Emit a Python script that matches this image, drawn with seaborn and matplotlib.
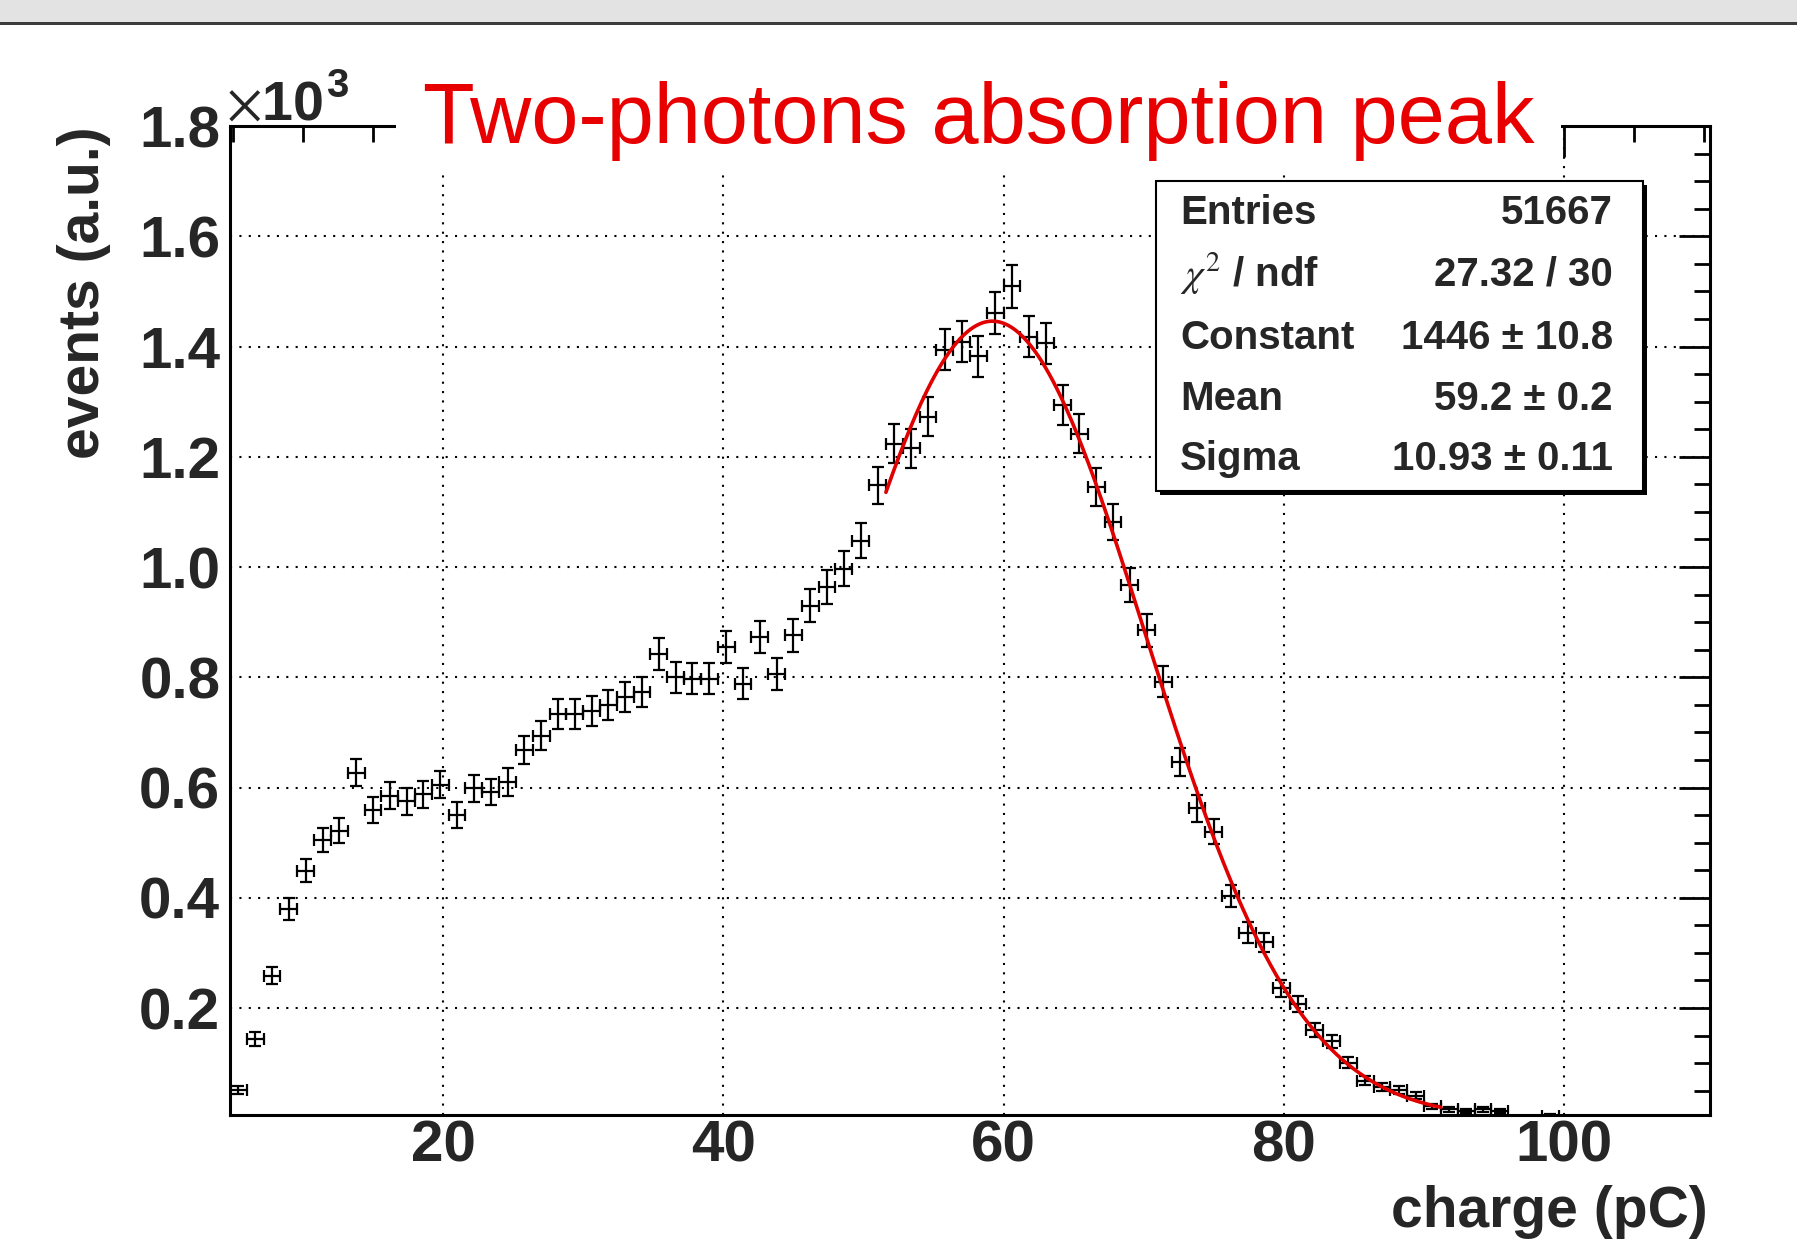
import matplotlib
matplotlib.use("Agg")
import matplotlib.pyplot as plt
from matplotlib.patches import Rectangle
from matplotlib.ticker import MultipleLocator
import numpy as np
import pandas as pd
import seaborn as sns

# bin centres (pC), bin width 1.2 pC
charge = [5.4, 6.6, 7.8, 9.0, 10.2, 11.4, 12.6, 13.8, 15.0, 16.2,
          17.4, 18.6, 19.8, 21.0, 22.2, 23.4, 24.6, 25.8, 27.0, 28.2,
          29.4, 30.6, 31.8, 33.0, 34.2, 35.4, 36.6, 37.8, 39.0, 40.2,
          41.4, 42.6, 43.8, 45.0, 46.2, 47.4, 48.6, 49.8, 51.0, 52.2,
          53.4, 54.6, 55.8, 57.0, 58.2, 59.4, 60.6, 61.8, 63.0, 64.2,
          65.4, 66.6, 67.8, 69.0, 70.2, 71.4, 72.6, 73.8, 75.0, 76.2,
          77.4, 78.6, 79.8, 81.0, 82.2, 83.4, 84.6, 85.8, 87.0, 88.2,
          89.4, 90.6, 91.8, 93.0, 94.2, 95.4, 99.0]
# bin contents in units of 10^3 events
events = [0.051, 0.144, 0.259, 0.380, 0.449, 0.505, 0.522, 0.627, 0.559, 0.585,
          0.575, 0.588, 0.605, 0.550, 0.599, 0.592, 0.610, 0.668, 0.694, 0.733,
          0.733, 0.738, 0.750, 0.764, 0.773, 0.842, 0.800, 0.797, 0.797, 0.855,
          0.788, 0.873, 0.806, 0.876, 0.930, 0.964, 0.997, 1.048, 1.148, 1.224,
          1.215, 1.273, 1.394, 1.409, 1.382, 1.461, 1.509, 1.418, 1.406, 1.294,
          1.242, 1.145, 1.082, 0.967, 0.885, 0.792, 0.646, 0.562, 0.520, 0.403,
          0.337, 0.319, 0.236, 0.208, 0.160, 0.140, 0.101, 0.068, 0.057, 0.051,
          0.041, 0.022, 0.016, 0.013, 0.016, 0.013, 0.005]
bin_width = 1.2

# gaussian fit parameters (from the stats box) and fit range
fit_const, fit_mean, fit_sigma = 1446, 59.2, 10.93
fit_range = [51.6, 91.2]

stats_names = ["Entries", r"$\chi^{2}$ / ndf", "Constant", "Mean", "Sigma"]
stats_values = ["51667", "27.32 / 30", "1446 \u00b1 10.8", "59.2 \u00b1 0.2", "10.93 \u00b1 0.11"]

xticks = [20, 40, 60, 80, 100]
yticks = [0.2, 0.4, 0.6, 0.8, 1.0, 1.2, 1.4, 1.6, 1.8]

W, H = 1797, 1243  # output size in px, used to place things in figure coords
def fx(px):
    return px / W
def fy(py):
    return 1 - py / H

sns.set_style("white")
plt.rcParams['font.family'] = ['Liberation Sans', 'DejaVu Sans']
plt.rcParams['mathtext.fontset'] = 'stix'

fig = plt.figure(figsize=(W / 100, H / 100), dpi=100)
ax = fig.add_axes([fx(230), fy(1115), fx(1710) - fx(230), fy(126) - fy(1115)])

yerr = np.sqrt(np.array(events) * 1000) / 1000  # poisson errors
ax.errorbar(charge, events, xerr=bin_width / 2, yerr=yerr, fmt='none',
            ecolor='black', elinewidth=1.6, capsize=4, capthick=1.6, zorder=3)

fit_x = np.linspace(fit_range[0], fit_range[1], 300)
fit_df = pd.DataFrame({'charge': fit_x,
                       'events': fit_const * np.exp(-0.5 * ((fit_x - fit_mean) / fit_sigma) ** 2) / 1000})
sns.lineplot(data=fit_df, x='charge', y='events', color='#e00000', lw=2.6, ax=ax, zorder=4)

ax.set_xlim(4.8, 110.4)
ax.set_ylim(0.006, 1.8)
ax.set_xticks(xticks, labels=[str(t) for t in xticks], fontweight='bold', fontsize=42)
ax.set_yticks(yticks, labels=[f"{t:.1f}" for t in yticks], fontweight='bold', fontsize=42)
ax.xaxis.set_minor_locator(MultipleLocator(5))
ax.yaxis.set_minor_locator(MultipleLocator(0.05))
ax.tick_params(which='both', direction='in', top=True, right=True, width=2, color='black')
ax.tick_params(which='major', length=22)
ax.tick_params(which='minor', length=11.5)
ax.tick_params(axis='x', pad=3)
ax.tick_params(axis='y', pad=7)
ax.set_xlabel('')
ax.set_ylabel('')
for s in ax.spines.values():
    s.set_linewidth(2.2)
    s.set_color('black')
ax.grid(True, which='major', color='black', linestyle=(0, (1, 3.5)), linewidth=1.5)
ax.set_axisbelow(True)

# axis titles, ROOT style (right/top aligned)
fig.text(fx(84), fy(126), 'events (a.u.)', rotation=90, ha='center', va='top',
         fontsize=41, fontweight='bold')
fig.text(fx(1708), fy(1227), 'charge (pC)', ha='right', va='baseline',
         fontsize=41, fontweight='bold')
# x10^3 multiplier
fig.text(fx(226), fy(120), r'$\times$10', ha='left', va='baseline', fontsize=40, fontweight='bold')
fig.text(fx(326), fy(97), '3', ha='left', va='baseline', fontsize=29, fontweight='bold')

# title on a white box that hides the top frame
fig.add_artist(Rectangle((fx(396), fy(172)), fx(1561) - fx(396), fy(40) - fy(172),
                         transform=fig.transFigure, facecolor='white', edgecolor='none', zorder=5))
fig.text(fx(979), fy(143), 'Two-photons absorption peak', ha='center', va='baseline',
         fontsize=61, color='#e80000', zorder=6)

# stats box with shadow
bx0, by0, bx1, by1 = 1156, 181, 1643, 491
fig.add_artist(Rectangle((fx(bx0 + 4), fy(by1 + 4)), fx(bx1) - fx(bx0), fy(by0) - fy(by1),
                         transform=fig.transFigure, facecolor='black', edgecolor='none', zorder=7))
fig.add_artist(Rectangle((fx(bx0), fy(by1)), fx(bx1) - fx(bx0), fy(by0) - fy(by1),
                         transform=fig.transFigure, facecolor='white', edgecolor='black',
                         linewidth=1.5, zorder=8))
baselines = [224, 286, 349, 410, 470]
for name, val, b in zip(stats_names, stats_values, baselines):
    fig.text(fx(1180), fy(b), name, ha='left', va='baseline', fontsize=29, fontweight='bold', zorder=9)
    fig.text(fx(1613), fy(b), val, ha='right', va='baseline', fontsize=29, fontweight='bold', zorder=9)

# window edge at the top of the screenshot
fig.add_artist(Rectangle((0, fy(22)), 1, fy(0) - fy(22), transform=fig.transFigure,
                         facecolor='#e3e3e3', edgecolor='none', zorder=10))
fig.add_artist(Rectangle((0, fy(25)), 1, fy(22) - fy(25), transform=fig.transFigure,
                         facecolor='#3c3c3c', edgecolor='none', zorder=10))

fig.savefig('out.png', dpi=100)
